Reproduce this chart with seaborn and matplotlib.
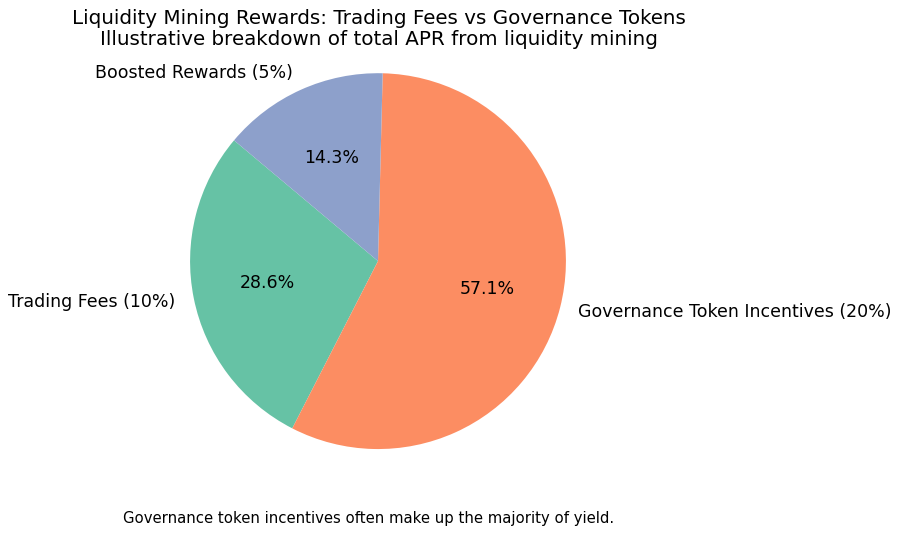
import matplotlib
matplotlib.use('Agg')
import matplotlib.pyplot as plt
import seaborn as sns

# data
labels = ['Trading Fees (10%)', 'Governance Token Incentives (20%)', 'Boosted Rewards (5%)']
values = [10, 20, 5]
colors = sns.color_palette('Set2', 3)

fig = plt.figure(figsize=(9, 5.34), dpi=100)
ax = fig.add_axes([0.159, 0.071, 0.522, 0.88])

ax.pie(values, labels=labels, colors=colors, autopct='%1.1f%%', startangle=140,
       textprops={'fontsize': 12.5})
ax.set_aspect('equal')

fig.text(0.4206, 0.983, 'Liquidity Mining Rewards: Trading Fees vs Governance Tokens\n'
         'Illustrative breakdown of total APR from liquidity mining',
         ha='center', va='top', fontsize=14.35, linespacing=1.12)

fig.text(0.41, 0.02, 'Governance token incentives often make up the majority of yield.',
         ha='center', fontsize=10.7)

fig.savefig('out.png', dpi=100)
